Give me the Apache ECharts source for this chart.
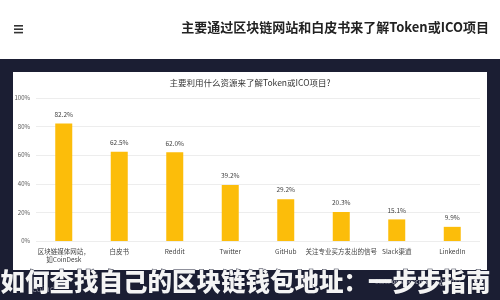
<!DOCTYPE html>
<html><head><meta charset="utf-8">
<script src="https://cdn.jsdelivr.net/npm/echarts@6/dist/echarts.min.js"></script>
<style>html,body{margin:0;padding:0;background:#fff;overflow:hidden}#c{width:500px;height:300px}</style>
</head><body><div id="c"></div>
<script>
const categories = ['区块链媒体网站，\n如CoinDesk', '白皮书', 'Reddit', 'Twitter', 'GitHub', '关注专业买方发出的信号', 'Slack渠道', 'LinkedIn'];
const values = [82.2, 62.5, 62.0, 39.2, 29.2, 20.3, 15.1, 9.9];
const yTicks = [0, 20, 40, 60, 80, 100];
const pageTitle = '主要通过区块链网站和白皮书来了解Token或ICO项目';
const chartTitle = '主要利用什么资源来了解Token或ICO项目?';
const banner = '如何查找自己的区块链钱包地址：一步步指南';

const chart = echarts.init(document.getElementById('c'), null, {renderer: 'canvas', width: 500, height: 300});
const font = '"Noto Sans CJK SC", "Noto Sans", sans-serif';
const navy = '#1b1e33';
chart.setOption({
  backgroundColor: '#ffffff',
  animation: false,
  graphic: [
    {type: 'rect', z: 50, shape: {x: 0, y: 59, width: 500, height: 13}, style: {fill: navy}},
    {type: 'rect', z: 50, shape: {x: 0, y: 59, width: 13, height: 241}, style: {fill: navy}},
    {type: 'rect', z: 50, shape: {x: 487, y: 59, width: 13, height: 241}, style: {fill: navy}},
    {type: 'rect', z: 50, shape: {x: 0, y: 270, width: 500, height: 30}, style: {fill: navy}},
    {type: 'group', left: 14, top: 25, children: [
      {type: 'rect', shape: {x: 0, y: 0, width: 9, height: 1.6}, style: {fill: '#333'}},
      {type: 'rect', shape: {x: 0, y: 3.4, width: 9, height: 1.6}, style: {fill: '#333'}},
      {type: 'rect', shape: {x: 0, y: 6.8, width: 9, height: 1.6}, style: {fill: '#333'}}
    ]},
    {type: 'text', right: 11, top: 21, style: {text: pageTitle, font: 'bold 13px ' + font, fill: '#222'}},
    {type: 'text', left: 'center', top: 79, style: {text: chartTitle, font: '8.5px ' + font, fill: '#333'}},
    {type: 'text', left: 32, top: 284, z: 60, style: {text: 'coindesk', font: '9px ' + font, fill: 'rgba(200,200,210,0.6)'}},
    {type: 'text', left: 375, top: 279, z: 60, style: {text: 'State of Blockchain – Q1 2017', font: 'bold 6px ' + font, fill: 'rgba(210,210,220,0.8)'}},
    {type: 'text', left: 0, top: 269, z: 100, style: {text: banner, font: '900 24.5px ' + font, fill: '#f4f4f4', stroke: navy, lineWidth: 1}}
  ],
  grid: {left: 36, right: 20, top: 98, bottom: 59},
  xAxis: {
    type: 'category', data: categories,
    axisLine: {show: false}, axisTick: {show: false},
    axisLabel: {interval: 0, fontSize: 6.5, color: '#444', margin: 7, fontFamily: font, lineHeight: 8}
  },
  yAxis: {
    type: 'value', min: 0, max: 100, interval: 20,
    axisLabel: {formatter: v => yTicks.includes(v) ? v + '%' : '', fontSize: 6, color: '#555', margin: 6, fontFamily: font},
    splitLine: {lineStyle: {color: '#e8e8e8', width: 0.8}},
    axisLine: {show: false}, axisTick: {show: false}
  },
  series: [{
    type: 'bar', data: values, barWidth: 17,
    itemStyle: {color: '#fcbd0a'},
    label: {show: true, position: 'top', formatter: p => p.value.toFixed(1) + '%', fontSize: 6.5, color: '#444', distance: 6, fontFamily: font}
  }]
});
</script></body></html>
